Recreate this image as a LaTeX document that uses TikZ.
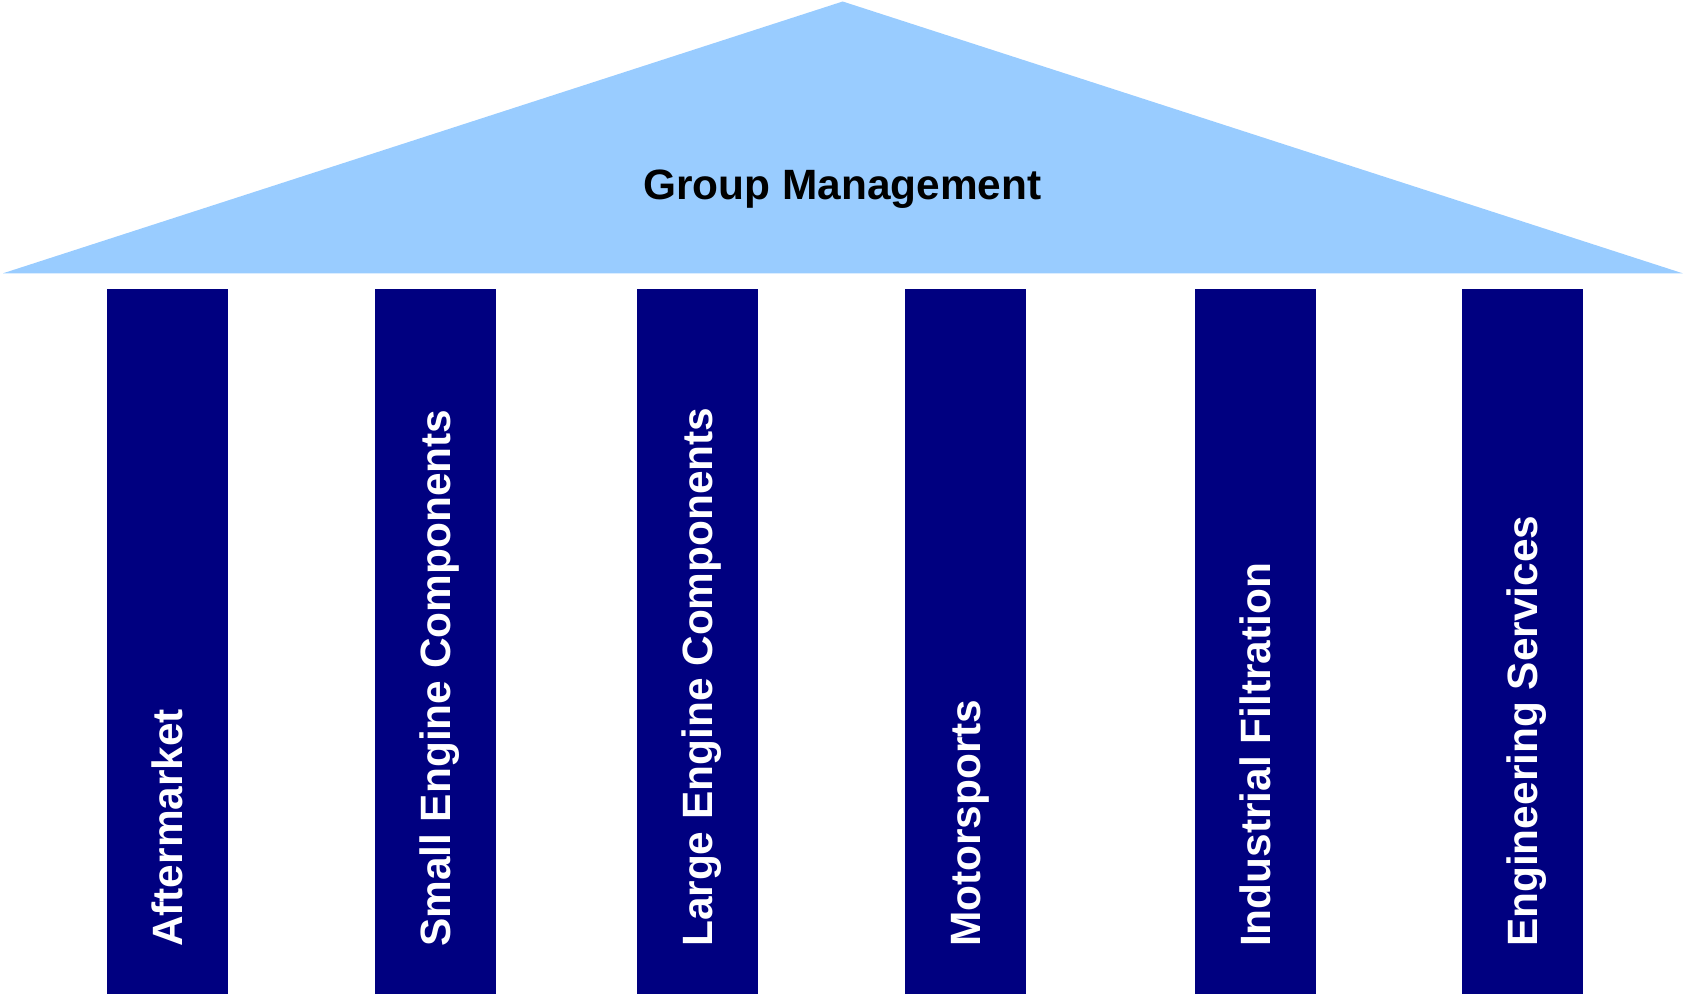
\documentclass[tikz,border=0pt]{standalone}
\usepackage{fontspec}
\setmainfont{Liberation Sans}
\usetikzlibrary{positioning}
\definecolor{roofblue}{HTML}{99CCFF}
\definecolor{pillarblue}{HTML}{000080}
\tikzset{pillar/.style={fill=pillarblue,draw=none,inner sep=0pt,
    minimum width=60.5pt,minimum height=352.25pt}}
\tikzset{pillarlabel/.style={text=white,font=\fontsize{21.2}{25}\selectfont\bfseries,
    rotate=90,anchor=west,inner sep=0pt,text height=15.2pt,text depth=0pt}}
\newcommand{\newPillar}[3]{\node[pillar](#1) at (#2,641.25) {};
  \node[pillarlabel](#1-text) at ([yshift=23.3pt]#1.south) {#3};}

\begin{document}
\begin{tikzpicture}[x=0.5pt,y=-0.5pt]
    \useasboundingbox (0,0) rectangle (1683,995);
    % roof
    \coordinate (apex) at (842.7,1.5);
    \coordinate (eaveL) at (3,273.3);
    \coordinate (eaveR) at (1682.7,273.3);
    \fill[roofblue] (eaveL) -- (apex) -- (eaveR) -- cycle;
    \node[font=\fontsize{21.2}{25}\selectfont\bfseries,anchor=base,inner sep=0pt]
        (group) at (842.5,199) {Group Management};
    % pillars
    \newPillar{after}{167.3}{Aftermarket}
    \newPillar{small}{435.4}{Small Engine Components}
    \newPillar{large}{697}{Large Engine Components}
    \newPillar{motor}{965}{Motorsports}
    \newPillar{filter}{1255.5}{Industrial Filtration}
    \newPillar{engserv}{1522.5}{Engineering Services}
  \end{tikzpicture}
\end{document}
